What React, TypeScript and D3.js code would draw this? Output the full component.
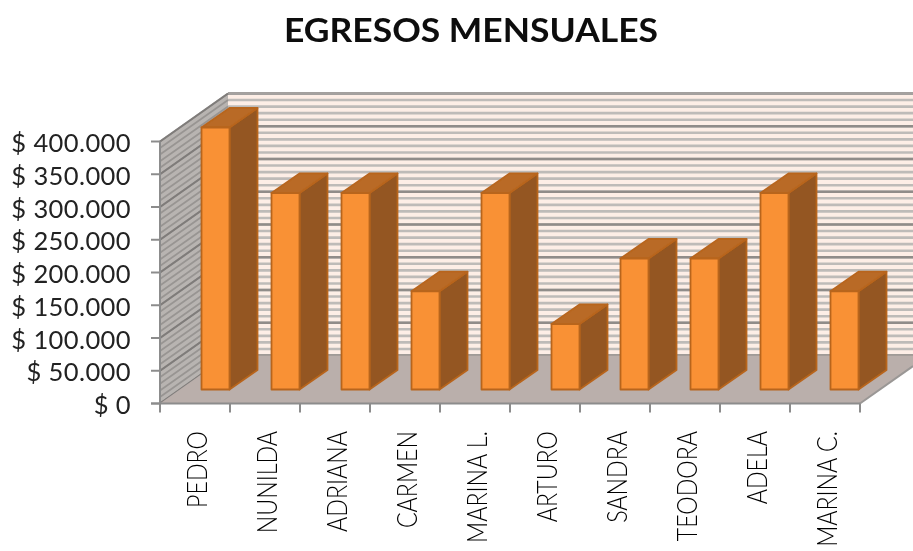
import React from "react";
import * as d3 from "d3";

const categories = ["PEDRO","NUNILDA","ADRIANA","CARMEN","MARINA L.","ARTURO","SANDRA","TEODORA","ADELA","MARINA C."];
const values = [400000,300000,300000,150000,300000,100000,200000,200000,300000,150000];
const yTicks = [0,50000,100000,150000,200000,250000,300000,350000,400000];
const minorTicks = d3.range(0, 400001, 10000);
const title = "EGRESOS MENSUALES";

const W = 913, H = 551;
const y = d3.scaleLinear().domain([0, 400000]).range([403.5, 141.5]);
const x = d3.scaleBand<string>().domain(categories).range([160, 860]).paddingInner(0).paddingOuter(0);
const DX = 68, DY = 48;
const barOffX = 41.5, barW = 28, barLift = 14, sideDX = 28, sideDY = 19.5;
const fmt = (v: number) => "$ " + d3.format(",")(v).replace(/,/g, ".");
const poly = (p: [number, number][]) => (d3.line()(p) as string) + "Z";

export default function App() {
  const x0 = x.range()[0], x1 = x.range()[1];
  const floorEdge = y(0) - (W - x1) * DY / DX;
  return (
    <svg width={W} height={H} style={{ position: "absolute", left: 0, top: 0, background: "#fff" }}>
      <defs><filter id="soft"><feGaussianBlur stdDeviation="0.5" /></filter></defs>
      <g filter="url(#soft)">
        <text x={471} y={42} textAnchor="middle" fontFamily="Lato, 'Open Sans', sans-serif" fontWeight={700} fontSize={32} fill="#0a0a0a" textLength={374} lengthAdjust="spacingAndGlyphs">{title}</text>

        {/* back wall */}
        <rect x={x0 + DX} y={y(400000) - DY} width={W - x0 - DX} height={y(0) - y(400000)} fill="#fdeee6" />
        {minorTicks.map(t => (
          <line key={t} x1={x0 + DX} x2={W} y1={y(t) - DY} y2={y(t) - DY} stroke="#bebbb8" strokeWidth={2.6} />
        ))}
        {yTicks.map(t => (
          <line key={t} x1={x0 + DX} x2={W} y1={y(t) - DY} y2={y(t) - DY} stroke="#908c89" strokeWidth={2.4} />
        ))}
        <line x1={x0 + DX} x2={W} y1={y(400000) - DY} y2={y(400000) - DY} stroke="#a5a2a0" strokeWidth={2.4} />

        {/* side wall */}
        <path d={poly([[x0, y(0)], [x0, y(400000)], [x0 + DX, y(400000) - DY], [x0 + DX, y(0) - DY]])} fill="#b8b4b1" />
        {minorTicks.map(t => (
          <line key={t} x1={x0} x2={x0 + DX} y1={y(t)} y2={y(t) - DY} stroke="#8b8886" strokeWidth={1.8} opacity={0.7} />
        ))}
        {yTicks.map(t => (
          <line key={t} x1={x0} x2={x0 + DX} y1={y(t)} y2={y(t) - DY} stroke="#7f7c7a" strokeWidth={2} />
        ))}

        {/* floor */}
        <path d={poly([[x0, y(0)], [x0 + DX, y(0) - DY], [W, y(0) - DY], [W, floorEdge], [x1, y(0)]])} fill="#baafab" />
        <line x1={x1} x2={W} y1={y(0)} y2={floorEdge} stroke="#9a9795" strokeWidth={2} />

        {/* bars */}
        {categories.map((c, i) => {
          const l = (x(c) as number) + barOffX - (i > 5 ? 1 : 0);
          const r = l + barW;
          const b = y(0) - barLift;
          const t = y(values[i]) - barLift;
          return (
            <g key={c} stroke="#b8651f" strokeWidth={1.8} strokeLinejoin="round">
              <path d={poly([[r, b], [r + sideDX, b - sideDY], [r + sideDX, t - sideDY], [r, t]])} fill="#945720" />
              <path d={poly([[l, t], [r, t], [r + sideDX, t - sideDY], [l + sideDX, t - sideDY]])} fill="#b96a25" />
              <rect x={l} y={t} width={barW} height={b - t} fill="#f99134" />
            </g>
          );
        })}

        {/* axes */}
        <line x1={x0} x2={x0} y1={y(400000)} y2={y(0) + 9} stroke="#8c8c8c" strokeWidth={2} />
        <line x1={x0 - 9} x2={x1} y1={y(0)} y2={y(0)} stroke="#8c8c8c" strokeWidth={2} />
        {yTicks.map(t => (
          <g key={t}>
            <line x1={x0 - 9} x2={x0} y1={y(t)} y2={y(t)} stroke="#8c8c8c" strokeWidth={2} />
            <text x={131} y={y(t) + 10.5} textAnchor="end" fontFamily="Lato, 'Open Sans', sans-serif" fontSize={25.5} fill="#222" letterSpacing={0.4}>{fmt(t)}</text>
          </g>
        ))}
        {categories.map((c, i) => {
          const tx = (x(c) as number) + x.bandwidth();
          const cx = (x(c) as number) + x.bandwidth() / 2;
          return (
            <g key={c}>
              <line x1={tx} x2={tx} y1={y(0)} y2={y(0) + 9} stroke="#8c8c8c" strokeWidth={2} />
              <text transform={`translate(${cx + 12},431) rotate(-90) scale(0.86,1)`} textAnchor="end" fontFamily="Lato, 'Open Sans', sans-serif" fontWeight={300} fontSize={27} fill="#000">{c}</text>
            </g>
          );
        })}
      </g>
    </svg>
  );
}
